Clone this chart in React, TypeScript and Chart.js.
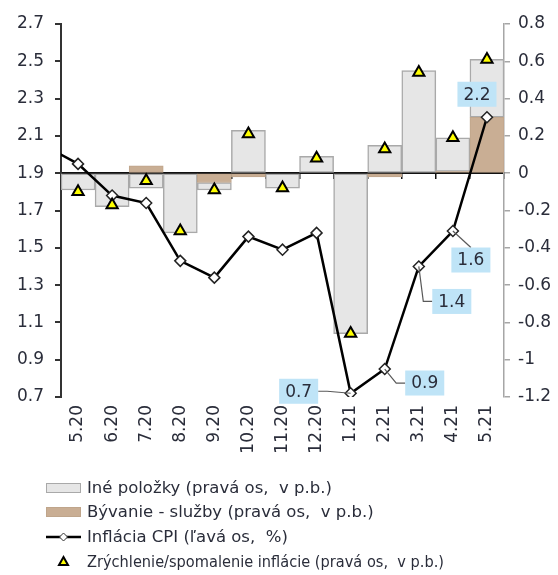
import React, { useEffect, useRef } from 'react';
import { Chart, registerables } from 'chart.js';

Chart.register(...registerables);

// ---- data ----
const categories = ['5.20', '6.20', '7.20', '8.20', '9.20', '10.20', '11.20', '12.20', '1.21', '2.21', '3.21', '4.21', '5.21'];
const otherItems = [-0.09, -0.18, -0.08, -0.32, -0.04, 0.23, -0.08, 0.09, -0.86, 0.15, 0.55, 0.18, 0.31];
const housingServices = [0, 0, 0.04, 0, -0.05, -0.02, 0, 0, 0, -0.02, 0, 0.01, 0.30];
const cpiPrevMonth = 2.05; // 4.20, only visible as the line entering the plot
const cpi = [1.95, 1.78, 1.74, 1.43, 1.34, 1.56, 1.49, 1.58, 0.72, 0.85, 1.40, 1.59, 2.20];
const inflationChange = [-0.10, -0.17, -0.04, -0.31, -0.09, 0.21, -0.08, 0.08, -0.86, 0.13, 0.54, 0.19, 0.61];
const leftAxis = { min: 0.7, max: 2.7, step: 0.2 };
const rightAxis = { min: -1.2, max: 0.8, step: 0.2 };
const legendLabels = [
  'Iné položky (pravá os,  v p.b.)',
  'Bývanie - služby (pravá os,  v p.b.)',
  'Inflácia CPI (ľavá os,  %)',
  'Zrýchlenie/spomalenie inflácie (pravá os,  v p.b.)',
];
const labelledFrom = 8;

// ---- styling / placement ----
const labelOffsets: [number, number][] = [[-52, -2], [40, 14], [33, 35], [18, 29], [-10, -23]];
const FONT = 'DejaVu Sans';
const TEXT = '#2a2d3a';
const GRAY_FILL = '#e6e6e6';
const GRAY_EDGE = '#a9a9a9';
const TAN_FILL = '#c9ae94';
const TAN_EDGE = '#bfa58b';
const LABEL_BG = '#bfe4f7';

const fmt1 = (v: number) => (v + 1e-9).toFixed(1);

const dataLabelPlugin = {
  id: 'cpiLabels',
  afterDatasetsDraw(chart: any) {
    const meta = chart.getDatasetMeta(2);
    const ctx = chart.ctx;
    ctx.save();
    ctx.font = `17px "${FONT}"`;
    ctx.textAlign = 'center';
    ctx.textBaseline = 'middle';
    for (let i = labelledFrom; i < cpi.length; i++) {
      const el = meta.data[i + 1];
      if (!el) continue;
      const off = labelOffsets[i - labelledFrom];
      const cx = el.x + off[0];
      const cy = el.y + off[1];
      const text = fmt1(cpi[i]);
      const w = ctx.measureText(text).width + 12;
      const h = 25;
      const l = cx - w / 2, r = cx + w / 2, t = cy - h / 2, b = cy + h / 2;
      const nx = Math.max(l, Math.min(el.x, r));
      const ny = Math.max(t, Math.min(el.y, b));
      const dist = Math.hypot(nx - el.x, ny - el.y);
      if (dist > 12) {
        ctx.strokeStyle = '#595959';
        ctx.lineWidth = 1.2;
        ctx.beginPath();
        ctx.moveTo(el.x, el.y);
        if (el.x < l) {
          ctx.lineTo(l - 9, cy);
          ctx.lineTo(l, cy);
        } else if (el.x > r) {
          ctx.lineTo(r + 9, cy);
          ctx.lineTo(r, cy);
        } else {
          ctx.lineTo(cx, el.y < t ? t : b);
        }
        ctx.stroke();
      }
      ctx.fillStyle = LABEL_BG;
      ctx.fillRect(l, t, w, h);
      ctx.fillStyle = TEXT;
      ctx.fillText(text, cx, cy + 1);
    }
    ctx.restore();
  },
};

const legendPlugin = {
  id: 'customLegend',
  afterDraw(chart: any) {
    const ctx = chart.ctx;
    const base = chart.chartArea.bottom;
    const rows = [91, 115, 140, 165];
    const bx = 46, bw = 35, tx = 87;
    ctx.save();
    ctx.font = `16.5px "${FONT}"`;
    ctx.textAlign = 'left';
    ctx.textBaseline = 'middle';
    rows.forEach((dy, i) => {
      const y = base + dy;
      if (i === 0 || i === 1) {
        ctx.fillStyle = i === 0 ? GRAY_FILL : TAN_FILL;
        ctx.fillRect(bx, y - 5, bw, 10);
        ctx.strokeStyle = i === 0 ? GRAY_EDGE : TAN_EDGE;
        ctx.lineWidth = 1;
        ctx.strokeRect(bx + 0.5, y - 4.5, bw - 1, 9);
      } else if (i === 2) {
        ctx.strokeStyle = '#000';
        ctx.lineWidth = 2.5;
        ctx.beginPath();
        ctx.moveTo(bx, y);
        ctx.lineTo(bx + bw, y);
        ctx.stroke();
        const cx = bx + bw / 2;
        ctx.beginPath();
        ctx.moveTo(cx, y - 4);
        ctx.lineTo(cx + 4, y);
        ctx.lineTo(cx, y + 4);
        ctx.lineTo(cx - 4, y);
        ctx.closePath();
        ctx.fillStyle = '#fff';
        ctx.fill();
        ctx.strokeStyle = '#333';
        ctx.lineWidth = 1;
        ctx.stroke();
      } else {
        const cx = bx + bw / 2;
        ctx.beginPath();
        ctx.moveTo(cx, y - 5);
        ctx.lineTo(cx + 4.5, y + 3);
        ctx.lineTo(cx - 4.5, y + 3);
        ctx.closePath();
        ctx.fillStyle = '#ffff00';
        ctx.fill();
        ctx.strokeStyle = '#000';
        ctx.lineWidth = 2;
        ctx.stroke();
      }
      ctx.fillStyle = TEXT;
      if (i === 3) ctx.fillText(legendLabels[i], tx, y + 1, 357);
      else ctx.fillText(legendLabels[i], tx, y + 1);
    });
    ctx.restore();
  },
};

export default function App() {
  const ref = useRef<HTMLCanvasElement | null>(null);
  useEffect(() => {
    if (!ref.current) return;
    const tickFont = { family: FONT, size: 17 };
    const chart = new Chart(ref.current, {
      type: 'bar',
      data: {
        labels: categories,
        datasets: [
          {
            type: 'bar',
            label: legendLabels[1],
            data: housingServices,
            xAxisID: 'x',
            yAxisID: 'y1',
            stack: 's',
            order: 2,
            grouped: false,
            backgroundColor: TAN_FILL,
            borderColor: TAN_EDGE,
            borderWidth: 1,
            borderSkipped: false,
            barPercentage: 1,
            categoryPercentage: 1,
          },
          {
            type: 'bar',
            label: legendLabels[0],
            data: otherItems,
            xAxisID: 'x',
            yAxisID: 'y1',
            stack: 's',
            order: 3,
            grouped: false,
            backgroundColor: GRAY_FILL,
            borderColor: GRAY_EDGE,
            borderWidth: 1.5,
            borderSkipped: false,
            barPercentage: 1,
            categoryPercentage: 1,
          },
          {
            type: 'line',
            label: legendLabels[2],
            data: [{ x: -1, y: cpiPrevMonth }, ...cpi.map((v, i) => ({ x: i, y: v }))] as any,
            xAxisID: 'xl',
            yAxisID: 'y',
            order: 1,
            borderColor: '#000',
            borderWidth: 2.5,
            tension: 0,
            pointStyle: 'rectRot',
            pointRadius: (c: any) => (c.dataIndex === 0 ? 0 : 5.5),
            pointBackgroundColor: '#fff',
            pointBorderColor: '#222',
            pointBorderWidth: 1.5,
          },
          {
            type: 'line',
            label: legendLabels[3],
            data: inflationChange,
            xAxisID: 'x',
            yAxisID: 'y1',
            order: 0,
            showLine: false,
            pointStyle: 'triangle',
            pointRadius: 6.5,
            pointBackgroundColor: '#ffff00',
            pointBorderColor: '#000',
            pointBorderWidth: 2,
          },
        ],
      },
      options: {
        responsive: true,
        maintainAspectRatio: false,
        animation: false,
        events: [],
        layout: { padding: { top: 24, left: 0, right: 0, bottom: 0 } },
        plugins: { legend: { display: false }, tooltip: { enabled: false } },
        scales: {
          x: {
            type: 'category',
            position: 'bottom',
            stacked: true,
            offset: true,
            grid: { display: false, drawTicks: false },
            border: { display: false },
            ticks: { minRotation: 90, maxRotation: 90, autoSkip: false, padding: 8, font: tickFont, color: TEXT },
            afterFit: (s: any) => { s.height = 178; },
          },
          x0: {
            type: 'category',
            axis: 'x',
            position: { y: 1.9 },
            offset: true,
            grid: { drawOnChartArea: false, drawTicks: true, tickLength: 5, color: '#111', lineWidth: 1.5, offset: true },
            border: { display: true, color: '#111', width: 2 },
            ticks: { display: false },
          },
          xl: { type: 'linear', axis: 'x', display: false, offset: false, min: -0.5, max: 12.5 },
          y: {
            type: 'linear',
            position: 'left',
            min: leftAxis.min,
            max: leftAxis.max,
            ticks: { stepSize: leftAxis.step, callback: (v: any) => fmt1(Number(v)), padding: 11, font: tickFont, color: TEXT },
            grid: { drawOnChartArea: false, tickLength: 6, color: '#333', lineWidth: 2 },
            border: { color: '#333', width: 2 },
            afterFit: (s: any) => { s.width = 61; },
          },
          y1: {
            type: 'linear',
            position: 'right',
            stacked: true,
            min: rightAxis.min,
            max: rightAxis.max,
            ticks: { stepSize: rightAxis.step, callback: (v: any) => String(Math.round(Number(v) * 10) / 10), padding: 8, font: tickFont, color: TEXT },
            grid: { drawOnChartArea: false, tickLength: 6, color: '#a6a6a6', lineWidth: 1.5 },
            border: { color: '#a6a6a6', width: 1.5 },
            afterFit: (s: any) => { s.width = 54; },
          },
        } as any,
      },
      plugins: [dataLabelPlugin, legendPlugin],
    } as any);
    return () => chart.destroy();
  }, []);
  return (
    <div style={{ position: 'fixed', left: 0, top: 0, width: 558, height: 575 }}>
      <canvas ref={ref} />
    </div>
  );
}
